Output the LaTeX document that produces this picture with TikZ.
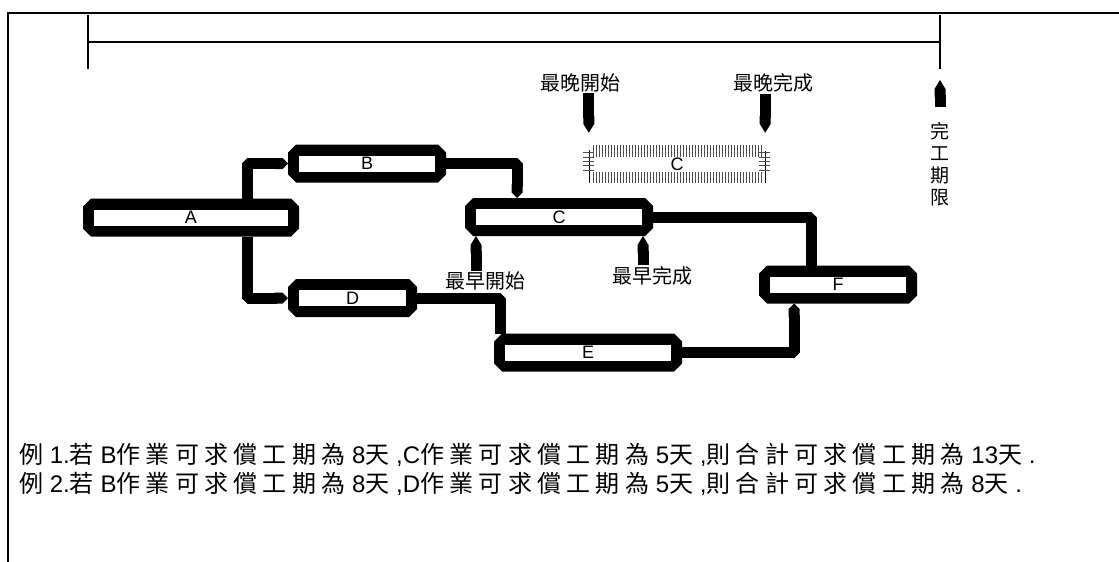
\documentclass[tikz,border=0pt]{standalone}
\usepackage{fontspec}
\setmainfont{Liberation Sans}
\newfontfamily\cjk{Noto Sans CJK TC}
\newfontfamily\cjkwide[LetterSpace=22]{Noto Sans CJK TC}
\newfontfamily\latin{Liberation Sans}
\newcommand\lat[1]{{\latin#1}}
\usetikzlibrary{arrows.meta,shapes.misc}

\tikzset{
  activity/.style={chamfered rectangle, chamfered rectangle xsep=4pt,
    chamfered rectangle ysep=4pt, fill=black, inner sep=0pt, outer sep=0pt,
    minimum height=38pt, font=\fontsize{18}{20}\selectfont,
    path picture={\fill[white]
      ([shift={(11pt,11pt)}]path picture bounding box.south west) rectangle
      ([shift={(-11pt,-11pt)}]path picture bounding box.north east);}},
  flow/.style={line width=11pt, line join=bevel},
  milestone/.style={line width=11pt, -{Triangle Cap[length=9pt]}},
  marktext/.style={font=\cjk\fontsize{20}{22}\selectfont, inner sep=1pt},
  hatch/.style={line width=0.8pt, black!70},
  example/.style={anchor=west, inner sep=0pt,
    font=\cjkwide\fontsize{24}{26}\selectfont},
}

\begin{document}
\begin{tikzpicture}[x=1pt, y=-1pt]
  \useasboundingbox (0,0) rectangle (1119,562);
  % frame
  \draw[line width=1.5pt] (8,562) -- (8,13) -- (1119,13);
  % time span
  \draw[line width=2pt]
    (88,15) -- (88,69) coordinate (start)
    (940,15) -- (940,69) coordinate (finish)
    (88,42) -- (940,42)
  ;
  \node[marktext, font=\cjk\fontsize{19}{22}\selectfont, align=center]
    (deadline) at (940,164) {完\\工\\期\\限};
  \draw[milestone] ([yshift=14pt]deadline.north) -- ([yshift=-11pt]finish);

  % activities
  \node[activity, minimum width=216pt] (A) at (191,217.5) {A};
  \node[activity, minimum width=158pt] (B) at (367,163.5) {B};
  \node[activity, minimum width=188pt] (C) at (559,217) {C};
  \node[activity, minimum width=129pt] (D) at (352.5,298) {D};
  \node[activity, minimum width=188pt] (E) at (588,352.5) {E};
  \node[activity, minimum width=158pt] (F) at (838,284.5) {F};

  \draw[flow, -{Triangle Cap}] ([xshift=56pt]A.north) |- (B.west);
  \draw[flow, -{Triangle Cap}] ([xshift=56pt]A.south) |- (D.west);
  \draw[flow, -{Triangle Cap}] (B.east) -| ([xshift=-42pt]C.north);
  \draw[flow] (C.east) -| ([xshift=-27pt]F.north);
  \draw[flow] (D.east) -| ([xshift=-88pt]E.north);
  \draw[flow, -{Triangle Cap}] (E.east) -| ([xshift=-44pt]F.south);

  % earliest start / finish of C
  \node[marktext] (early start) at (485,281) {最早開始};
  \node[marktext] (early finish) at (652,276) {最早完成};
  \coordinate (es) at ([xshift=-83pt]C.south);
  \coordinate (ef) at ([xshift=84pt]C.south);
  \draw[milestone] (early start.north -| es) -- (es);
  \draw[milestone] (early finish.north -| ef) -- (ef);

  % C shifted to its latest position
  \node[font=\fontsize{18}{20}\selectfont, minimum width=176pt,
    minimum height=38pt, inner sep=0pt] (late C) at (677,164) {C};
  \foreach \x in {593,596,...,762}
    \draw[hatch] (\x,145) -- (\x,157) (\x,172) -- (\x,183);
  \draw[hatch, black] (589,150) -- (589,183) (765,151) -- (765,183);
  \foreach \y in {152,157,161,165,170}
    \draw[hatch] (583,\y) -- (594,\y) (759,\y) -- (770,\y);
  \node[marktext] (late start) at (580,83) {最晚開始};
  \node[marktext] (late finish) at (773,83) {最晚完成};
  \coordinate (ls) at ([yshift=12pt]late C.north west);
  \coordinate (lf) at ([yshift=12pt]late C.north east);
  \draw[milestone] (late start.south -| ls) -- (ls);
  \draw[milestone] (late finish.south -| lf) -- (lf);

  % examples
  \node[example] (example 1) at (19,455)
    {例\lat{ 1.}若\lat{ B}作業可求償工期為\lat{ 8}天\lat{ ,C}作業可求償工期為\lat{ 5}天\lat{ ,}則合計可求償工期為\lat{ 13}天\lat{ .}};
  \node[example] (example 2) at (19,484)
    {例\lat{ 2.}若\lat{ B}作業可求償工期為\lat{ 8}天\lat{ ,D}作業可求償工期為\lat{ 5}天\lat{ ,}則合計可求償工期為\lat{ 8}天\lat{ .}};
\end{tikzpicture}
\end{document}
